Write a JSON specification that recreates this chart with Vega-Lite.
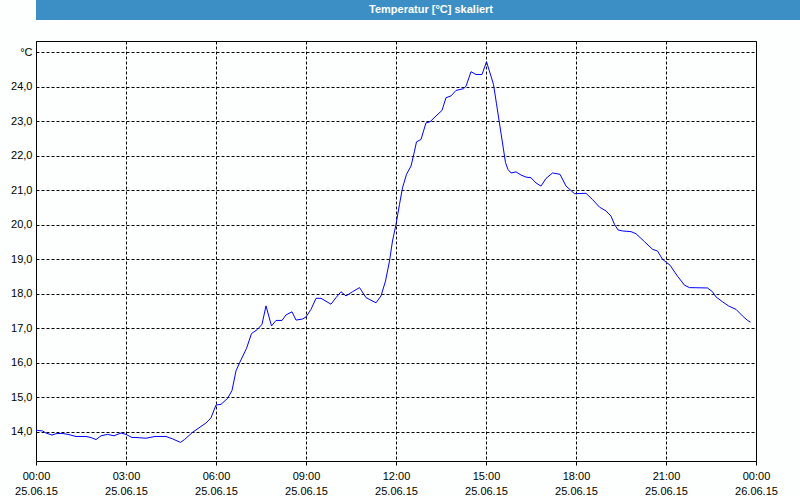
{
  "$schema": "https://vega.github.io/schema/vega-lite/v6.json",
  "background": "#fcfffe",
  "padding": {"left": 10, "top": 0, "right": 0, "bottom": 0},
  "spacing": 20,
  "config": {
    "font": "Liberation Sans",
    "axis": {
      "labelFont": "Liberation Sans",
      "labelFontSize": 11,
      "labelColor": "#000000",
      "tickColor": "#000000",
      "domain": false,
      "gridColor": "#000000",
      "gridDash": [3, 2],
      "gridWidth": 1
    }
  },
  "vconcat": [
    {
      "width": 790,
      "height": 20,
      "view": {"fill": "#3c8fc4", "stroke": null},
      "data": {"values": [{"title": "Temperatur [°C] skaliert"}]},
      "mark": {"type": "text", "font": "Liberation Sans", "fontSize": 11, "fontWeight": "bold", "color": "#ffffff", "baseline": "middle", "align": "center"},
      "encoding": {"text": {"field": "title"}}
    },
    {
      "width": 720,
      "height": 420,
      "view": {"stroke": "#000000", "strokeWidth": 1},
      "data": {"values": [
        {"t": "2015-06-25T00:00", "v": 14.05},
        {"t": "2015-06-25T00:13", "v": 14.03},
        {"t": "2015-06-25T00:20", "v": 13.97},
        {"t": "2015-06-25T00:32", "v": 13.91},
        {"t": "2015-06-25T00:40", "v": 13.95},
        {"t": "2015-06-25T00:52", "v": 13.96},
        {"t": "2015-06-25T01:04", "v": 13.93},
        {"t": "2015-06-25T01:20", "v": 13.87},
        {"t": "2015-06-25T01:40", "v": 13.87},
        {"t": "2015-06-25T01:50", "v": 13.84},
        {"t": "2015-06-25T02:00", "v": 13.78},
        {"t": "2015-06-25T02:10", "v": 13.89},
        {"t": "2015-06-25T02:23", "v": 13.93},
        {"t": "2015-06-25T02:36", "v": 13.89},
        {"t": "2015-06-25T02:50", "v": 13.97},
        {"t": "2015-06-25T03:00", "v": 13.93},
        {"t": "2015-06-25T03:12", "v": 13.84},
        {"t": "2015-06-25T03:20", "v": 13.84},
        {"t": "2015-06-25T03:40", "v": 13.82},
        {"t": "2015-06-25T03:58", "v": 13.87},
        {"t": "2015-06-25T04:20", "v": 13.87},
        {"t": "2015-06-25T04:33", "v": 13.80},
        {"t": "2015-06-25T04:49", "v": 13.70},
        {"t": "2015-06-25T04:57", "v": 13.78},
        {"t": "2015-06-25T05:13", "v": 13.99},
        {"t": "2015-06-25T05:26", "v": 14.12},
        {"t": "2015-06-25T05:40", "v": 14.26},
        {"t": "2015-06-25T05:50", "v": 14.41},
        {"t": "2015-06-25T06:00", "v": 14.78},
        {"t": "2015-06-25T06:10", "v": 14.80},
        {"t": "2015-06-25T06:23", "v": 14.97},
        {"t": "2015-06-25T06:32", "v": 15.20},
        {"t": "2015-06-25T06:40", "v": 15.77},
        {"t": "2015-06-25T06:47", "v": 16.00},
        {"t": "2015-06-25T07:01", "v": 16.42},
        {"t": "2015-06-25T07:11", "v": 16.85},
        {"t": "2015-06-25T07:23", "v": 16.97},
        {"t": "2015-06-25T07:32", "v": 17.12},
        {"t": "2015-06-25T07:40", "v": 17.65},
        {"t": "2015-06-25T07:51", "v": 17.07},
        {"t": "2015-06-25T08:00", "v": 17.23},
        {"t": "2015-06-25T08:12", "v": 17.23},
        {"t": "2015-06-25T08:20", "v": 17.39},
        {"t": "2015-06-25T08:32", "v": 17.48},
        {"t": "2015-06-25T08:40", "v": 17.24},
        {"t": "2015-06-25T08:53", "v": 17.27},
        {"t": "2015-06-25T09:00", "v": 17.33},
        {"t": "2015-06-25T09:10", "v": 17.55},
        {"t": "2015-06-25T09:20", "v": 17.87},
        {"t": "2015-06-25T09:30", "v": 17.87},
        {"t": "2015-06-25T09:50", "v": 17.70},
        {"t": "2015-06-25T10:00", "v": 17.89},
        {"t": "2015-06-25T10:10", "v": 18.06},
        {"t": "2015-06-25T10:20", "v": 17.94},
        {"t": "2015-06-25T10:33", "v": 18.06},
        {"t": "2015-06-25T10:47", "v": 18.18},
        {"t": "2015-06-25T11:00", "v": 17.89},
        {"t": "2015-06-25T11:20", "v": 17.74},
        {"t": "2015-06-25T11:30", "v": 17.94},
        {"t": "2015-06-25T11:39", "v": 18.37},
        {"t": "2015-06-25T11:47", "v": 18.95},
        {"t": "2015-06-25T11:53", "v": 19.53},
        {"t": "2015-06-25T12:00", "v": 20.01},
        {"t": "2015-06-25T12:07", "v": 20.59},
        {"t": "2015-06-25T12:13", "v": 21.07},
        {"t": "2015-06-25T12:21", "v": 21.46},
        {"t": "2015-06-25T12:30", "v": 21.70},
        {"t": "2015-06-25T12:37", "v": 22.13},
        {"t": "2015-06-25T12:41", "v": 22.40},
        {"t": "2015-06-25T12:50", "v": 22.47},
        {"t": "2015-06-25T13:00", "v": 22.95},
        {"t": "2015-06-25T13:08", "v": 22.98},
        {"t": "2015-06-25T13:20", "v": 23.15},
        {"t": "2015-06-25T13:32", "v": 23.31},
        {"t": "2015-06-25T13:40", "v": 23.68},
        {"t": "2015-06-25T13:50", "v": 23.73},
        {"t": "2015-06-25T14:00", "v": 23.89},
        {"t": "2015-06-25T14:15", "v": 23.94},
        {"t": "2015-06-25T14:20", "v": 24.01},
        {"t": "2015-06-25T14:30", "v": 24.43},
        {"t": "2015-06-25T14:40", "v": 24.35},
        {"t": "2015-06-25T14:52", "v": 24.35},
        {"t": "2015-06-25T15:01", "v": 24.72},
        {"t": "2015-06-25T15:10", "v": 24.30},
        {"t": "2015-06-25T15:15", "v": 24.06},
        {"t": "2015-06-25T15:21", "v": 23.50},
        {"t": "2015-06-25T15:30", "v": 22.65},
        {"t": "2015-06-25T15:39", "v": 21.80},
        {"t": "2015-06-25T15:44", "v": 21.60},
        {"t": "2015-06-25T15:50", "v": 21.50},
        {"t": "2015-06-25T16:00", "v": 21.53},
        {"t": "2015-06-25T16:10", "v": 21.44},
        {"t": "2015-06-25T16:20", "v": 21.38},
        {"t": "2015-06-25T16:30", "v": 21.36},
        {"t": "2015-06-25T16:40", "v": 21.21},
        {"t": "2015-06-25T16:50", "v": 21.12},
        {"t": "2015-06-25T17:00", "v": 21.34},
        {"t": "2015-06-25T17:13", "v": 21.50},
        {"t": "2015-06-25T17:28", "v": 21.46},
        {"t": "2015-06-25T17:40", "v": 21.12},
        {"t": "2015-06-25T17:57", "v": 20.90},
        {"t": "2015-06-25T18:20", "v": 20.91},
        {"t": "2015-06-25T18:33", "v": 20.73},
        {"t": "2015-06-25T18:47", "v": 20.51},
        {"t": "2015-06-25T19:00", "v": 20.40},
        {"t": "2015-06-25T19:10", "v": 20.25},
        {"t": "2015-06-25T19:17", "v": 20.01},
        {"t": "2015-06-25T19:24", "v": 19.85},
        {"t": "2015-06-25T19:33", "v": 19.82},
        {"t": "2015-06-25T19:50", "v": 19.80},
        {"t": "2015-06-25T20:00", "v": 19.74},
        {"t": "2015-06-25T20:17", "v": 19.51},
        {"t": "2015-06-25T20:33", "v": 19.29},
        {"t": "2015-06-25T20:43", "v": 19.24},
        {"t": "2015-06-25T20:53", "v": 19.00},
        {"t": "2015-06-25T21:08", "v": 18.83},
        {"t": "2015-06-25T21:23", "v": 18.51},
        {"t": "2015-06-25T21:37", "v": 18.25},
        {"t": "2015-06-25T21:47", "v": 18.18},
        {"t": "2015-06-25T22:23", "v": 18.17},
        {"t": "2015-06-25T22:33", "v": 18.06},
        {"t": "2015-06-25T22:40", "v": 17.91},
        {"t": "2015-06-25T22:53", "v": 17.77},
        {"t": "2015-06-25T23:05", "v": 17.65},
        {"t": "2015-06-25T23:20", "v": 17.55},
        {"t": "2015-06-25T23:33", "v": 17.36},
        {"t": "2015-06-25T23:43", "v": 17.23},
        {"t": "2015-06-25T23:49", "v": 17.18}
      ]},
      "mark": {"type": "line", "color": "#0000ff", "strokeWidth": 1},
      "encoding": {
        "x": {
          "field": "t",
          "type": "temporal",
          "scale": {"domain": [{"year": 2015, "month": 6, "date": 25, "hours": 0}, {"year": 2015, "month": 6, "date": 26, "hours": 0}], "nice": false},
          "axis": {
            "title": null,
            "values": [
              {"year": 2015, "month": 6, "date": 25, "hours": 0},
              {"year": 2015, "month": 6, "date": 25, "hours": 3},
              {"year": 2015, "month": 6, "date": 25, "hours": 6},
              {"year": 2015, "month": 6, "date": 25, "hours": 9},
              {"year": 2015, "month": 6, "date": 25, "hours": 12},
              {"year": 2015, "month": 6, "date": 25, "hours": 15},
              {"year": 2015, "month": 6, "date": 25, "hours": 18},
              {"year": 2015, "month": 6, "date": 25, "hours": 21},
              {"year": 2015, "month": 6, "date": 26, "hours": 0}
            ],
            "tickSize": 4,
            "labelPadding": 5,
            "labelOverlap": false,
            "labelFlush": false,
            "labelLineHeight": 15,
            "labelBaseline": "top",
            "labelExpr": "[timeFormat(datum.value, '%H:%M'), timeFormat(datum.value, '%d.%m.%y')]"
          }
        },
        "y": {
          "field": "v",
          "type": "quantitative",
          "scale": {"domain": [13.16, 25.32], "nice": false, "zero": false},
          "axis": {
            "title": null,
            "values": [14, 15, 16, 17, 18, 19, 20, 21, 22, 23, 24, 25],
            "ticks": false,
            "labelPadding": 4,
            "labelExpr": "datum.value == 25 ? '°C' : replace(format(datum.value, '.1f'), '.', ',')"
          }
        }
      }
    }
  ]
}
